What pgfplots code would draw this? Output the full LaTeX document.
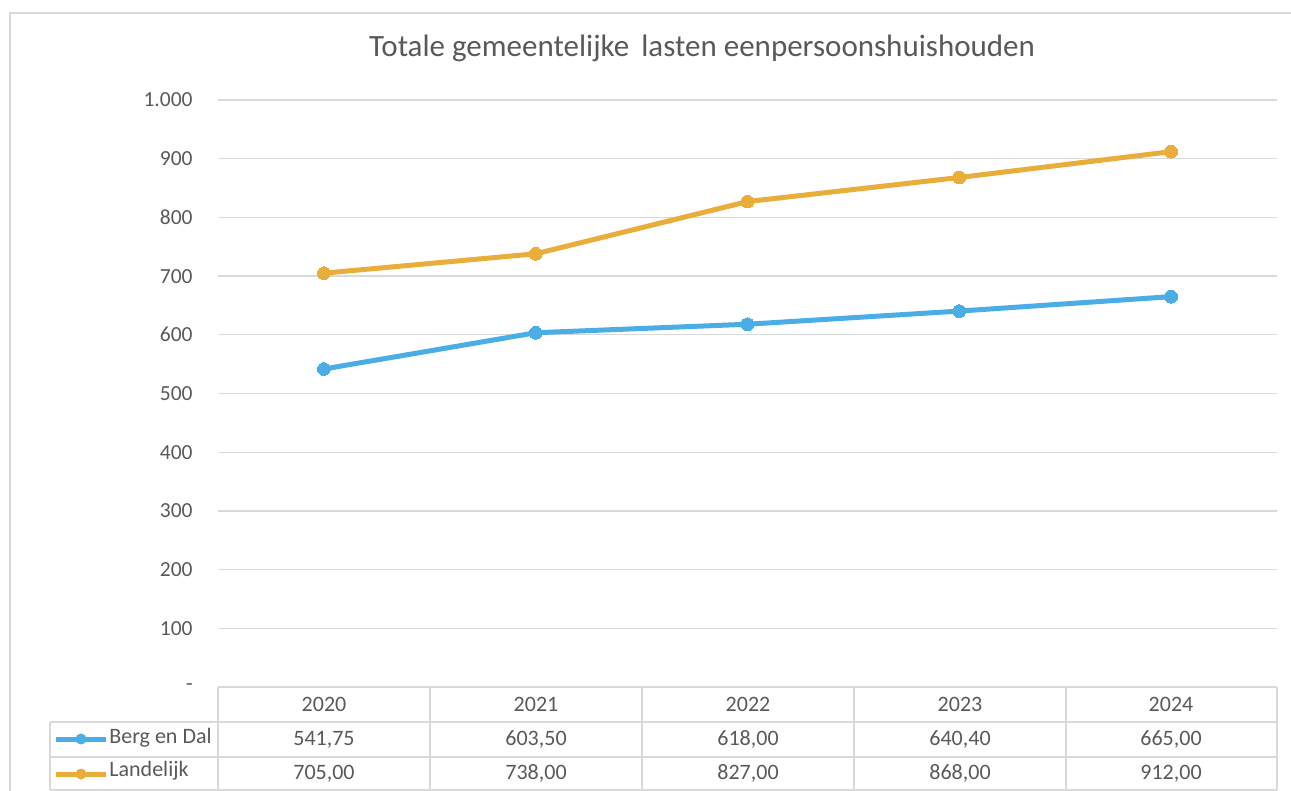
\documentclass[border=0pt]{standalone}
\usepackage{pgfplots}
\pgfplotsset{compat=1.18}
\usepackage{fontspec}
\setmainfont{Carlito}
\definecolor{bdblue}{RGB}{74,173,230}
\definecolor{lorange}{RGB}{232,173,58}
\definecolor{txt}{RGB}{89,89,89}
\definecolor{gridc}{RGB}{217,217,217}
\begin{document}
\begin{tikzpicture}
\path[use as bounding box] (0,0) rectangle (645.5pt,-395.5pt);
\begin{axis}[
  at={(109pt,-343.5pt)}, anchor=south west,
  scale only axis, width=529.5pt, height=293.5pt,
  xmin=-0.5, xmax=4.5, ymin=0, ymax=1000,
  xtick=\empty, ytick={0,100,...,1000},
  yticklabels={-,100,200,300,400,500,600,700,800,900,1.000},
  ymajorgrids, grid style={gridc, line width=0.65pt},
  axis line style={draw=none},
  major tick length=0pt,
  yticklabel style={font=\fontsize{10.75}{13}\selectfont, text=txt, anchor=east, inner sep=0pt, xshift=-12.5pt},
  clip=false,
]
\addplot[bdblue, line width=2.5pt, mark=*, mark size=3.2pt, mark options={fill=bdblue, draw=bdblue, line width=0pt}]
  coordinates {(0,541.75)(1,603.5)(2,618)(3,640.4)(4,665)};
\addplot[lorange, line width=2.5pt, mark=*, mark size=3.2pt, mark options={fill=lorange, draw=lorange, line width=0pt}]
  coordinates {(0,705)(1,738)(2,827)(3,868)(4,912)};
\end{axis}
\begin{scope}[x=0.5pt,y=-0.5pt]
  \draw[gridc, line width=0.65pt] (10,791) -- (10,13) -- (1291,13);
  \draw[gridc, line width=1pt] (218,687) -- (1277,687);
  \draw[gridc, line width=1pt] (50,722) -- (1277,722);
  \draw[gridc, line width=1pt] (50,757) -- (1277,757);
  \draw[gridc, line width=1pt] (50,790) -- (1277,790);
  \draw[gridc, line width=1pt] (50,722) -- (50,790);
  \foreach \xx in {218,430,642,854,1066,1277} {
    \draw[gridc, line width=1pt] (\xx,687) -- (\xx,790);
  }
  \node[font=\fontsize{15.5}{18}\selectfont, text=txt] at (702,48) {Totale gemeentelijke\, lasten eenpersoonshuishouden};
  \begin{scope}[every node/.style={font=\fontsize{11}{13}\selectfont, text=txt}]
    \node at (324,704.5) {2020};
    \node at (536,704.5) {2021};
    \node at (748,704.5) {2022};
    \node at (960,704.5) {2023};
    \node at (1171,704.5) {2024};
    \node at (324,739.5) {541,75};
    \node at (536,739.5) {603,50};
    \node at (748,739.5) {618,00};
    \node at (960,739.5) {640,40};
    \node at (1171,739.5) {665,00};
    \node at (324,773.5) {705,00};
    \node at (536,773.5) {738,00};
    \node at (748,773.5) {827,00};
    \node at (960,773.5) {868,00};
    \node at (1171,773.5) {912,00};
    \node[anchor=west, inner sep=0pt] at (109,738) {Berg en Dal};
    \node[anchor=west, inner sep=0pt] at (109,771) {Landelijk};
  \end{scope}
  \draw[bdblue, line width=2.5pt] (56,739) -- (106,739);
  \fill[bdblue] (81,739) circle (5.5);
  \draw[lorange, line width=2.5pt] (56,774) -- (106,774);
  \fill[lorange] (81,774) circle (5.5);
\end{scope}
\end{tikzpicture}
\end{document}
